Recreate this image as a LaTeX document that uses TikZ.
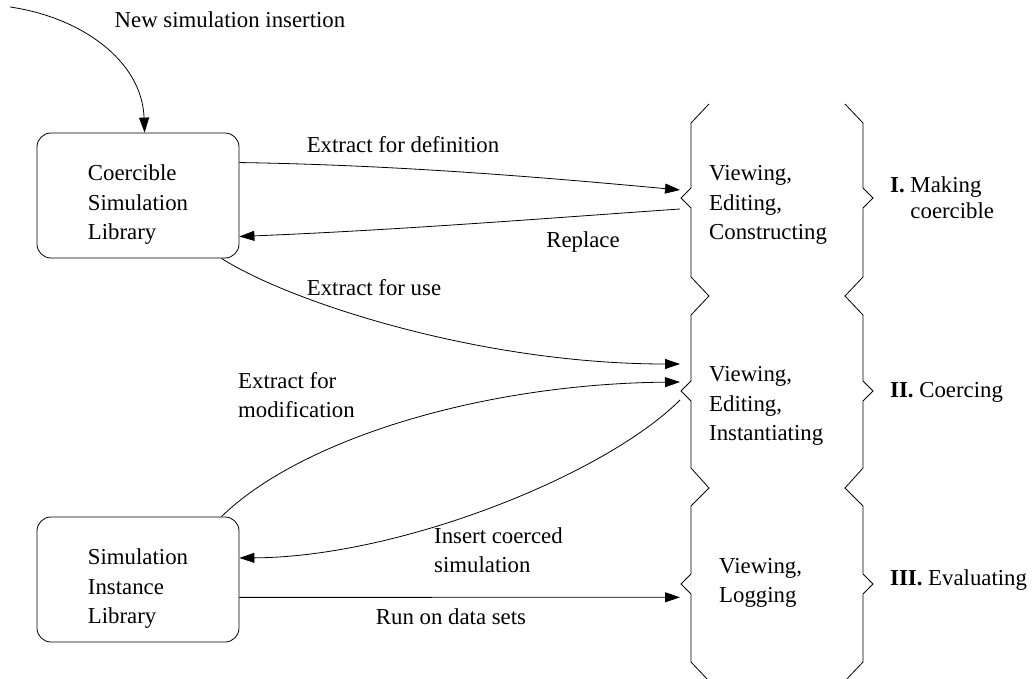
\documentclass[tikz,border=0pt]{standalone}
\usepackage{fontspec}
\setmainfont{Liberation Serif}
\usetikzlibrary{arrows.meta}
\begin{document}
\begin{tikzpicture}[x=1pt,y=-1pt,
  every node/.style={font=\fontsize{22.8pt}{29.5pt}\selectfont, inner sep=0pt},
  lib/.style={draw, rounded corners=14pt, minimum width=202pt, minimum height=125pt, line width=0.8pt},
  libtext/.style={align=left, yshift=-9.5pt},
  conn/.style={line width=0.8pt, -{Triangle[length=15pt,width=10pt]}},
  bracel/.style={line width=0.8pt, line join=miter},
  lbl/.style={align=left}]
\useasboundingbox (0,0) rectangle (1033,679);

% libraries
\node[lib, label={[libtext]center:{Coercible\\Simulation\\Library}}] (csl) at (138,195.5) {};
\node[lib, label={[libtext]center:{Simulation\\Instance\\Library}}] (sil) at (138,579.5) {};

% braces
\draw[bracel] (709,104) -- (691,123) -- (691,188) -- (681,198) -- (691,208) -- (691,277) -- (709,296)
  -- (691,315) -- (691,381) -- (681,391) -- (691,401) -- (691,468) -- (709,488)
  -- (691,506) -- (691,574) -- (681,584) -- (691,594) -- (691,662) -- (709,681);
\draw[bracel] (845,104) -- (863,123) -- (863,188) -- (873,198) -- (863,208) -- (863,277) -- (845,296)
  -- (863,315) -- (863,381) -- (873,391) -- (863,401) -- (863,468) -- (845,488)
  -- (863,506) -- (863,574) -- (873,584) -- (863,594) -- (863,662) -- (845,681);

% connector end points at the brace notches
\coordinate (d1in) at (680,190);
\coordinate (d1out) at (680,209);
\coordinate (d2a) at (680,364);
\coordinate (d2b) at (680,382);
\coordinate (d2out) at (680,400);
\coordinate (d3in) at (680,597.3);
\coordinate (src) at (10,7);

% connectors
\draw[conn] (src) .. controls (80,17) and (142,60) .. (csl.84);
\draw[conn] (csl.18) .. controls (400,165) and (550,178) .. (d1in);
\draw[conn] (d1out) .. controls (550,218) and (400,230) .. (csl.-22);
\draw[conn] (csl.-37) .. controls (290,302) and (480,364) .. (d2a);
\draw[conn] (sil.37) .. controls (300,440) and (480,384) .. (d2b);
\draw[conn] (d2out) .. controls (605,475) and (400,557) .. (sil.12.5);
\draw[conn] (sil.-10) -- (d3in);

% connector labels
\node (l0) at (230,20) {New simulation insertion};
\node (l1) at (403,145) {Extract for definition};
\node (l2) at (583,242) {Replace};
\node (l3) at (374,288) {Extract for use};
\node[lbl, anchor=west] (l4) at (238,395) {Extract for\\modification};
\node[lbl, anchor=west] (l5) at (434,550) {Insert coerced\\simulation};
\node (l6) at (451,617) {Run on data sets};

% stage contents
\node[lbl, anchor=west] (s1) at (709,205) {Viewing,\\Editing,\\Constructing};
\node[lbl, anchor=west] (s2) at (709,406) {Viewing,\\Editing,\\Instantiating};
\node[lbl, anchor=west] (s3) at (719,583) {Viewing,\\Logging};

% stage names
\node[lbl, anchor=west, font=\fontsize{22.8pt}{26pt}\selectfont] (p1) at (890,198) {\textbf{I.} Making\\\phantom{\textbf{I.} }coercible};
\node[anchor=west] (p2) at (890,392) {\textbf{II.} Coercing};
\node[anchor=west] (p3) at (890,580) {\textbf{III.} Evaluating};
\end{tikzpicture}
\end{document}
